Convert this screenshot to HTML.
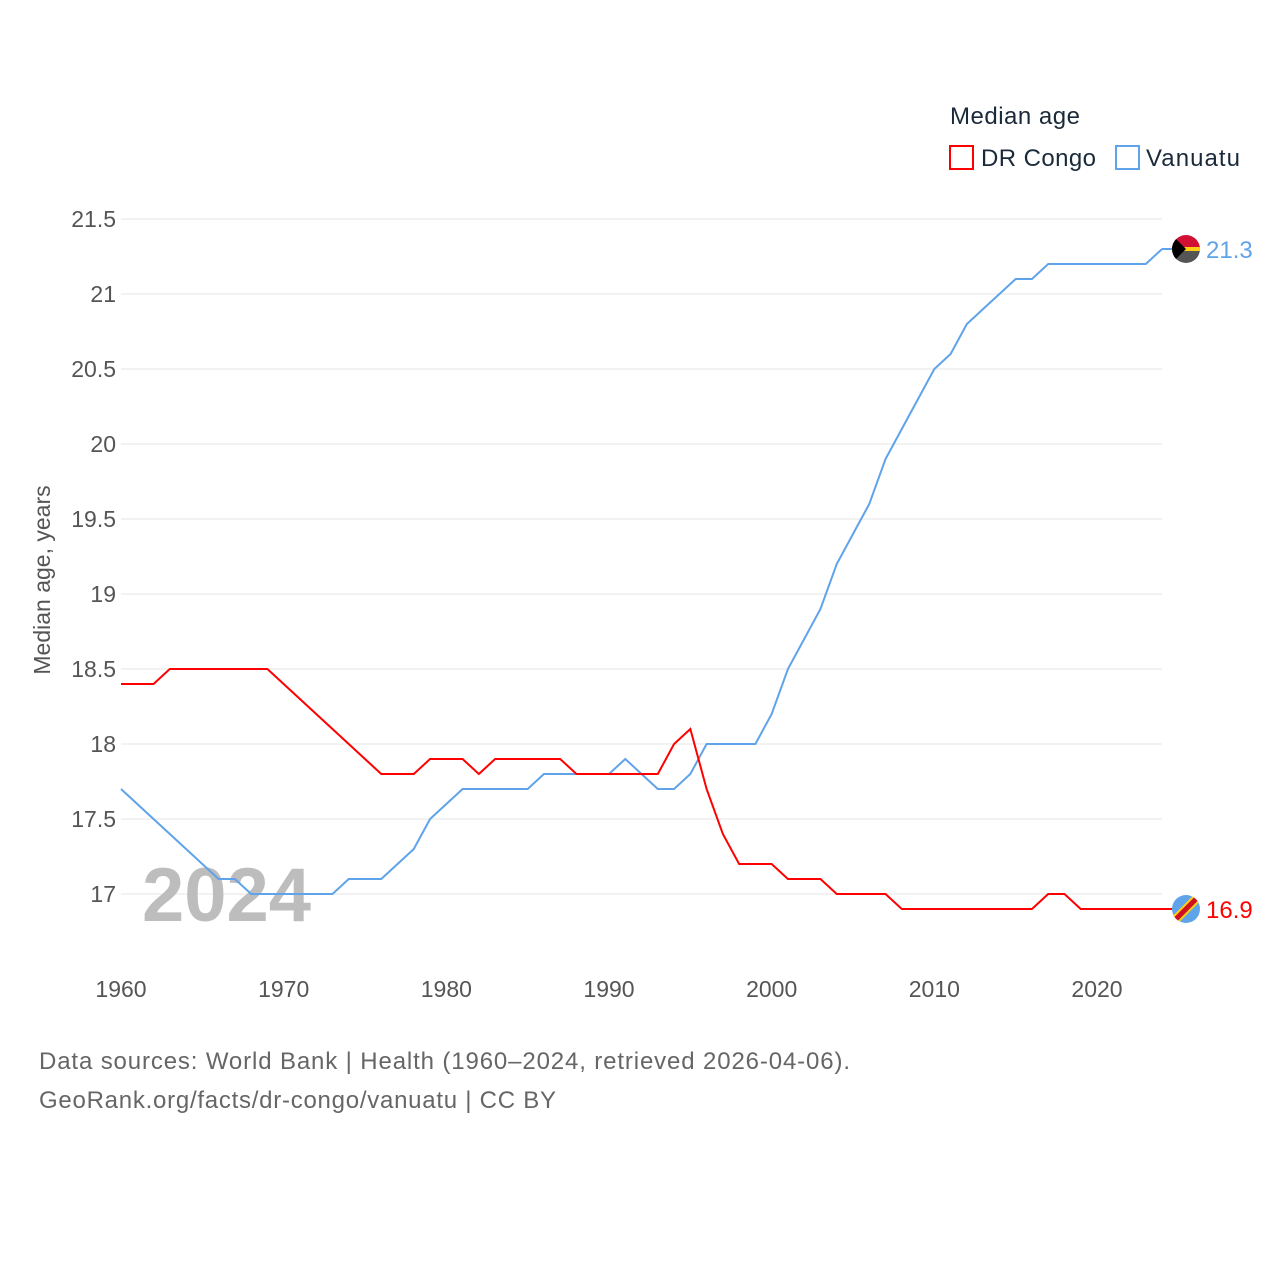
<!DOCTYPE html>
<html><head><meta charset="utf-8">
<style>
body{margin:0;background:#fff;font-family:"Liberation Sans",sans-serif;}
svg{display:block}
</style></head>
<body>
<svg id="chart" width="1280" height="1280" viewBox="0 0 1280 1280">
<g id="grid"></g>
<g id="yticks"></g>
<g id="xticks"></g>
<text x="142" y="921" font-size="76" font-weight="bold" fill="#bdbdbd">2024</text>
<text transform="translate(50,580) rotate(-90)" text-anchor="middle" font-size="23" fill="#555">Median age, years</text>
<g id="series"></g>
<g>
<text x="950" y="124" font-size="24" fill="#1b2a3a" textLength="130">Median age</text>
<g><rect x="950" y="146" width="23" height="23" fill="none" stroke="#ff0000" stroke-width="2"/><text x="981" y="166" font-size="24" fill="#1b2a3a" textLength="115">DR Congo</text></g>
<g><rect x="1116" y="146" width="23" height="23" fill="none" stroke="#5fa3ea" stroke-width="2"/><text x="1146" y="166" font-size="24" fill="#1b2a3a" textLength="94">Vanuatu</text></g>
</g>
<text x="39" y="1069" font-size="24" fill="#666" textLength="811">Data sources: World Bank | Health (1960–2024, retrieved 2026-04-06).</text>
<text x="39" y="1108" font-size="24" fill="#666" textLength="517">GeoRank.org/facts/dr-congo/vanuatu | CC BY</text>
</svg>
<script>
const years=[];for(let y=1960;y<=2024;y++)years.push(y);
const drCongo=[18.4,18.4,18.4,18.5,18.5,18.5,18.5,18.5,18.5,18.5,18.4,18.3,18.2,18.1,18.0,17.9,17.8,17.8,17.8,17.9,17.9,17.9,17.8,17.9,17.9,17.9,17.9,17.9,17.8,17.8,17.8,17.8,17.8,17.8,18.0,18.1,17.7,17.4,17.2,17.2,17.2,17.1,17.1,17.1,17.0,17.0,17.0,17.0,16.9,16.9,16.9,16.9,16.9,16.9,16.9,16.9,16.9,17.0,17.0,16.9,16.9,16.9,16.9,16.9,16.9];
const vanuatu=[17.7,17.6,17.5,17.4,17.3,17.2,17.1,17.1,17.0,17.0,17.0,17.0,17.0,17.0,17.1,17.1,17.1,17.2,17.3,17.5,17.6,17.7,17.7,17.7,17.7,17.7,17.8,17.8,17.8,17.8,17.8,17.9,17.8,17.7,17.7,17.8,18.0,18.0,18.0,18.0,18.2,18.5,18.7,18.9,19.2,19.4,19.6,19.9,20.1,20.3,20.5,20.6,20.8,20.9,21.0,21.1,21.1,21.2,21.2,21.2,21.2,21.2,21.2,21.2,21.3];
const yTicks=[17,17.5,18,18.5,19,19.5,20,20.5,21,21.5];
const xTicks=[1960,1970,1980,1990,2000,2010,2020];
const NS='http://www.w3.org/2000/svg';
const xs=y=>121+(y-1960)*(976/60);
const ys=v=>894-(v-17)*150;
function mk(tag,attrs,parent){const e=document.createElementNS(NS,tag);for(const k in attrs)e.setAttribute(k,attrs[k]);parent.appendChild(e);return e;}
const grid=document.getElementById('grid'),yt=document.getElementById('yticks'),xt=document.getElementById('xticks'),ser=document.getElementById('series');
yTicks.forEach(v=>{
 const l=mk('line',{x1:121,x2:1162,y1:ys(v),y2:ys(v),stroke:'#e6e6e6','stroke-width':1},grid);
 
 
 const t=mk('text',{x:116,y:ys(v)+8,'text-anchor':'end','font-size':23,fill:'#555'},yt);
 t.textContent=String(v);
 
 
});
xTicks.forEach(v=>{
 const t=mk('text',{x:xs(v),y:997,'text-anchor':'middle','font-size':23,fill:'#555'},xt);
 t.textContent=String(v);
 
 
});
function line(data,color,name,flag){
 const p=mk('polyline',{points:data.map((v,i)=>xs(years[i])+','+ys(v)).join(' '),fill:'none',stroke:color,'stroke-width':2},ser);
 
 
 const last=data[data.length-1],ly=ys(last);
 mk('line',{x1:1162,x2:1172,y1:ly,y2:ly,stroke:color,'stroke-width':2},ser);
 const g=mk('g',{},ser);
 
 
 const cid='clip-'+name;
 const cp=mk('clipPath',{id:cid},g);mk('circle',{cx:1186,cy:ly,r:14},cp);
 const fg=mk('g',{'clip-path':'url(#'+cid+')'},g);
 if(flag==='vu'){
  mk('rect',{x:1172,y:ly-14,width:28,height:14,fill:'#d21034'},fg);
  mk('rect',{x:1172,y:ly,width:28,height:14,fill:'#555'},fg);
  mk('rect',{x:1172,y:ly-2,width:28,height:4,fill:'#fdce12'},fg);
  mk('polygon',{points:`1172,${ly-14} 1186,${ly} 1172,${ly+14}`,fill:'#000'},fg);
 } else {
  mk('rect',{x:1172,y:ly-14,width:28,height:28,fill:'#5fa3ea'},fg);
  mk('line',{x1:1172,y1:ly+14,x2:1200,y2:ly-14,stroke:'#fdce12','stroke-width':9},fg);
  mk('line',{x1:1172,y1:ly+14,x2:1200,y2:ly-14,stroke:'#ce1021','stroke-width':5},fg);
 }
 const t=mk('text',{x:1206,y:ly+9,'font-size':24,fill:color},ser);
 t.textContent=last.toFixed(1);
 
 
}
line(vanuatu,'#5fa3ea','vanuatu-line','vu');
line(drCongo,'#ff0000','dr-congo-line','cd');
</script>
</body></html>
